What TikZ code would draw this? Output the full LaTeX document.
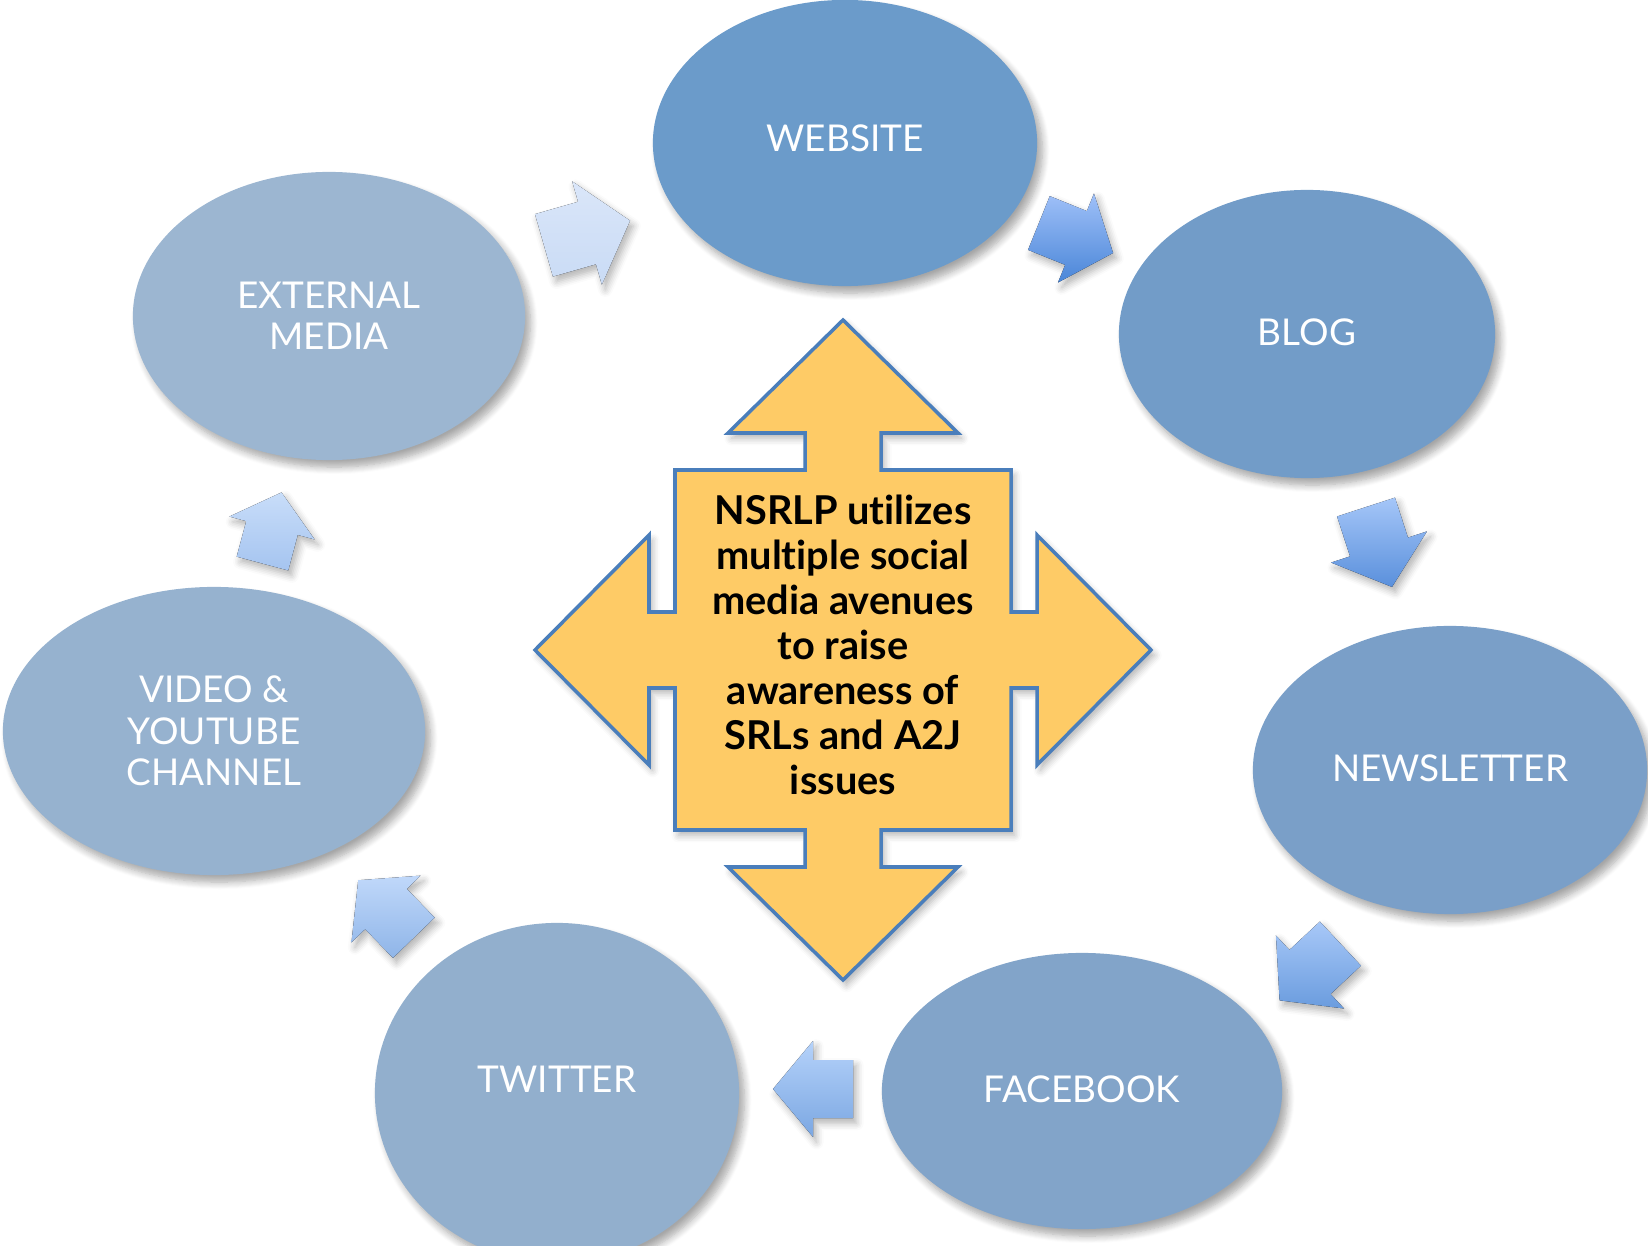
\documentclass[tikz,border=0pt]{standalone}
\usepackage{fontspec}
\setmainfont{Lato}[Ligatures=NoCommon]
\usetikzlibrary{shapes.geometric,shadows.blur}

\definecolor{crossfill}{HTML}{FECB66}
\definecolor{crossline}{HTML}{4A7EBB}
% avenue colours
\definecolor{webcol}{HTML}{6B9BCA}
\definecolor{blogcol}{HTML}{729CC8}
\definecolor{newscol}{HTML}{7A9FC8}
\definecolor{fbcol}{HTML}{82A4C9}
\definecolor{twcol}{HTML}{92AFCD}
\definecolor{videocol}{HTML}{96B2CF}
\definecolor{extcol}{HTML}{9CB6D1}
% arrow shades, top then bottom
\definecolor{flowAt}{HTML}{DAE6F9}\definecolor{flowAb}{HTML}{C9DBF5}
\definecolor{flowBt}{HTML}{9FC0F8}\definecolor{flowBb}{HTML}{4A86D8}
\definecolor{flowCt}{HTML}{A5C6F8}\definecolor{flowCb}{HTML}{5A90DC}
\definecolor{flowDt}{HTML}{A8C8F8}\definecolor{flowDb}{HTML}{6A9CDE}
\definecolor{flowEt}{HTML}{B5D2FA}\definecolor{flowEb}{HTML}{7BA7E2}
\definecolor{flowFt}{HTML}{C0D8FA}\definecolor{flowFb}{HTML}{8FB5E8}
\definecolor{flowGt}{HTML}{C8DDF9}\definecolor{flowGb}{HTML}{A5C4F0}

\tikzset{
  avenue/.style={ellipse, fill=#1, text=white, align=center,
    inner sep=0pt, font=\fontsize{10.5}{11.8}\selectfont,
    blur shadow={shadow xshift=1.5pt, shadow yshift=-2pt,
      shadow blur steps=8, shadow opacity=35}},
  pics/flow/.style n args={2}{code={
    \fill[top color=#1, bottom color=#2,
      blur shadow={shadow xshift=1pt, shadow yshift=-1.5pt,
        shadow blur steps=5, shadow opacity=30}]
      (-40,-29) -- (0,-29) -- (0,-48) -- (40,0)
      -- (0,48) -- (0,29) -- (-40,29) -- cycle;
  }}
}

\begin{document}
\begin{tikzpicture}[x=0.01cm, y=-0.01cm]
  \useasboundingbox (0,0) rectangle (1648,1246);
  \clip (0,0) rectangle (1648,1246);

  % the seven avenues
  \node[avenue=webcol, minimum width=3.84cm, minimum height=2.86cm]
    (web) at (845,143) {\raisebox{2.5pt}{WEBSITE}};
  \node[avenue=blogcol, minimum width=3.76cm, minimum height=2.88cm]
    (blog) at (1307,334) {\raisebox{1pt}{BLOG}};
  \node[avenue=newscol, minimum width=3.94cm, minimum height=2.88cm]
    (news) at (1450,770) {\raisebox{1pt}{NEWSLETTER}};
  \node[avenue=fbcol, minimum width=4cm, minimum height=2.76cm]
    (fb) at (1082,1091) {\raisebox{1pt}{FACEBOOK}};
  \node[avenue=twcol, minimum width=3.64cm, minimum height=3.4cm]
    (tw) at (557,1093) {\raisebox{8pt}{TWITTER}};
  \node[avenue=videocol, minimum width=4.22cm, minimum height=2.88cm]
    (video) at (214,731) {VIDEO \&\\YOUTUBE\\CHANNEL};
  \node[avenue=extcol, minimum width=3.92cm, minimum height=2.88cm]
    (ext) at (329,316) {EXTERNAL\\MEDIA};

  % block arrows round the cycle
  \pic[rotate=16, scale=1.12] at (587,233) {flow={flowAt}{flowAb}};
  \pic[rotate=-22] at (1076,238) {flow={flowBt}{flowBb}};
  \pic[rotate=-72, scale=1.05] at (1379,547) {flow={flowCt}{flowCb}};
  \pic[rotate=-137, scale=1.04] at (1310,972) {flow={flowDt}{flowDb}};
  \pic[rotate=180] at (813,1089) {flow={flowEt}{flowEb}};
  \pic[rotate=134] at (386,909) {flow={flowFt}{flowFb}};
  \pic[rotate=75, scale=0.92] at (272,528) {flow={flowGt}{flowGb}};

  % the four-way arrow in the middle
  \begin{scope}[shift={(843,650)}]
    \filldraw[fill=crossfill, draw=crossline, line width=1pt,
      blur shadow={shadow xshift=1pt, shadow yshift=-1.5pt,
        shadow blur steps=5, shadow opacity=30}]
      (0,-330) -- (115,-217) -- (38,-217) -- (38,-180) -- (168,-180)
      -- (168,-38) -- (194,-38) -- (194,-115) -- (308,0) -- (194,115)
      -- (194,38) -- (168,38) -- (168,180) -- (38,180) -- (38,217)
      -- (115,217) -- (0,330) -- (-115,217) -- (-38,217) -- (-38,180)
      -- (-168,180) -- (-168,38) -- (-194,38) -- (-194,115) -- (-308,0)
      -- (-194,-115) -- (-194,-38) -- (-168,-38) -- (-168,-180)
      -- (-38,-180) -- (-38,-217) -- (-115,-217) -- cycle;
  \end{scope}
  \node[align=center, font=\bfseries\fontsize{11.3}{12.8}\selectfont]
    (goal) at (843,645) {NSRLP utilizes\\multiple social\\media avenues\\to raise\\awareness of\\SRLs and A2J\\issues};
\end{tikzpicture}
\end{document}
